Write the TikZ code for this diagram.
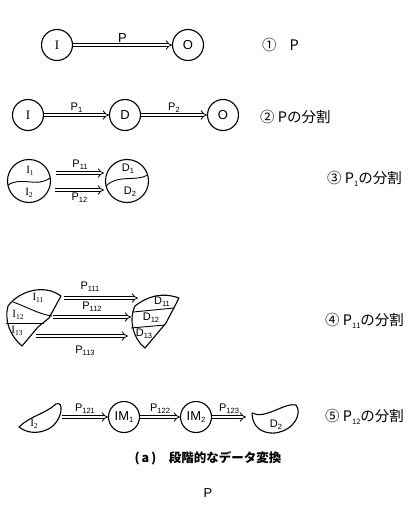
\documentclass[tikz,border=0pt]{standalone}
\usepackage{fontspec}
\setmainfont{Liberation Sans}
\newfontfamily\cjk{Noto Sans CJK JP}
\newfontfamily\rmI{Liberation Serif}
\usetikzlibrary{arrows.meta,calc}
\newcommand{\lowsub}[1]{\raisebox{-0.3ex}{\fontsize{7.5}{8}\selectfont #1}}
\begin{document}
\begin{tikzpicture}[x=1pt,y=-1pt,
  circ/.style={circle,draw,line width=1.1pt,minimum size=31pt,inner sep=0pt,font=\fontsize{13}{14}\selectfont},
  bigcirc/.style={circle,draw,line width=1.1pt,minimum size=43pt,inner sep=0pt},
  dbl/.style={double,double distance=2.4pt,line width=0.8pt,-{Implies}},
  plab/.style={font=\fontsize{11}{12}\selectfont,inner sep=1pt},
  inlab/.style={font=\fontsize{11}{12}\selectfont,inner sep=0pt},
  rlab/.style={anchor=west,font=\cjk\fontsize{14.5}{15}\selectfont,inner sep=0pt},
  blob/.style={line width=1.1pt,line join=round}]
\useasboundingbox (0,0) rectangle (419,508);

% Row 1
\node[circ] (I1) at (57,45) {\rmI I};
\node[circ] (O1) at (188,45) {O};
\draw[dbl] (I1) -- node[plab,above=1pt,font=\fontsize{13}{14}\selectfont]{P} (O1);
\node[rlab] (L1) at (262,45) {①\hspace{0.9em}P};

% Row 2
\node[circ] (I2) at (28,115) {\rmI I};
\node[circ] (D2) at (125,115) {D};
\node[circ] (O2) at (223,115) {O};
\draw[dbl] (I2) -- node[plab,above=1pt]{P\lowsub{1}} (D2);
\draw[dbl] (D2) -- node[plab,above=1pt]{P\lowsub{2}} (O2);
\node[rlab] (L2) at (260,117) {② Pの分割};

% Row 3
\node[bigcirc] (I3) at (29,181) {};
\node[bigcirc] (D3) at (127,181) {};
\draw[line width=0.9pt] (8,185) .. controls (22,176) and (36,188) .. (50,178);
\draw[line width=0.9pt] (106,186) .. controls (118,174) and (135,182) .. (148,175);
\node[inlab] (I3a) at (30,171) {\rmI I\lowsub{1}};
\node[inlab] (I3b) at (29,193) {\rmI I\lowsub{2}};
\node[inlab] (D3a) at (128,169) {D\lowsub{1}};
\node[inlab] (D3b) at (130,192) {D\lowsub{2}};
\coordinate (a3s) at (56,173); \coordinate (a3e) at (104,173);
\coordinate (b3s) at (55,190); \coordinate (b3e) at (104,190);
\draw[dbl] (a3s) -- node[plab,above=2pt]{P\lowsub{11}} (a3e);
\draw[dbl] (b3s) -- node[plab,below=2pt]{P\lowsub{12}} (b3e);
\node[rlab] (L3) at (327,179) {③ P\lowsub{1}の分割};

% Row 4 left shape
\draw[blob] (8,306) .. controls (20,290) and (45,284) .. (61,296)
  -- (49,318) -- (38,327) -- (22,346)
  .. controls (10,336) and (4,320) .. (8,306) -- cycle;
\draw[line width=0.9pt] (13,302) .. controls (25,306) and (38,314) .. (52,316);
\draw[line width=0.9pt] (6,323) -- (44,323);
\node[inlab] (I4a) at (38,298) {\rmI I\lowsub{11}};
\node[inlab] (I4b) at (18,315) {\rmI I\lowsub{12}};
\node[inlab] (I4c) at (17,331) {\rmI I\lowsub{13}};
% Row 4 right shape
\draw[blob] (135,306) .. controls (148,296) and (162,292) .. (179,298)
  -- (166,323) -- (145,348)
  .. controls (134,340) and (128,320) .. (135,306) -- cycle;
\draw[line width=0.9pt] (133,312) -- (174,308);
\draw[line width=0.9pt] (131,328) -- (165,325);
\node[inlab] (D4a) at (162,302) {D\lowsub{11}};
\node[inlab] (D4b) at (151,318) {D\lowsub{12}};
\node[inlab] (D4c) at (144,334) {D\lowsub{13}};
\coordinate (a4s) at (64,298); \coordinate (a4e) at (138,298);
\coordinate (b4s) at (53,317); \coordinate (b4e) at (131,317);
\coordinate (c4s) at (36,336); \coordinate (c4e) at (128,336);
\draw[dbl] (a4s) -- (a4e);
\draw[dbl] (b4s) -- (b4e);
\draw[dbl] (c4s) -- (c4e);
\node[plab] (p111) at (90,287) {P\lowsub{111}};
\node[plab] (p112) at (92,307) {P\lowsub{112}};
\node[plab] (p113) at (85,351) {P\lowsub{113}};
\node[rlab] (L4) at (325,321) {④ P\lowsub{11}の分割};

% Row 5
\draw[blob] (19,427) .. controls (30,416) and (45,414) .. (56,404)
  .. controls (64,400) and (63,420) .. (50,428)
  .. controls (40,434) and (28,434) .. (19,427) -- cycle;
\node[inlab] (I5) at (34,424) {\rmI I\lowsub{2}};
\coordinate (a5s) at (62,417);
\node[circ] (IM1) at (124,417) {IM\lowsub{1}};
\node[circ] (IM2) at (196,417) {IM\lowsub{2}};
\coordinate (a5e) at (246,417);
\draw[dbl] (a5s) -- node[plab,above=2pt]{P\lowsub{121}} (IM1);
\draw[dbl] (IM1) -- node[plab,above=2pt]{P\lowsub{122}} (IM2);
\draw[dbl] (IM2) -- node[plab,above=2pt]{P\lowsub{123}} (a5e);
\draw[blob] (252,413) .. controls (265,420) and (285,402) .. (296,405)
  .. controls (302,412) and (296,430) .. (275,433)
  .. controls (260,434) and (252,425) .. (252,413) -- cycle;
\node[inlab] (D5) at (276,425) {D\lowsub{2}};
\node[rlab] (L5) at (325,417) {⑤ P\lowsub{12}の分割};

% caption
\node[font=\cjk\fontsize{12.5}{13}\selectfont\bfseries] (cap) at (208,458) {(\,a\,)\quad 段階的なデータ変換};
\node[font=\fontsize{13}{14}\selectfont] (Pb) at (208,493) {P};
\end{tikzpicture}
\end{document}
